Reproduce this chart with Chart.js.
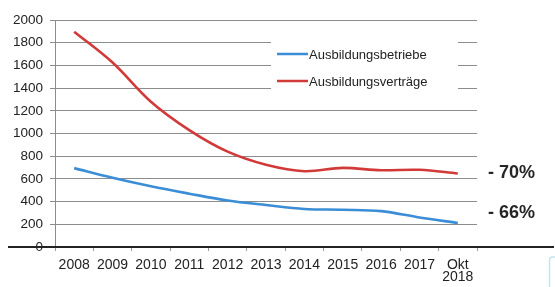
<!DOCTYPE html>
<html>
<head>
<meta charset="utf-8">
<script src="https://cdn.jsdelivr.net/npm/chart.js@4"></script>
<style>
html,body{margin:0;padding:0;background:#fff;}
#wrap{position:relative;width:555px;height:287px;}
</style>
</head>
<body>
<div id="wrap"><canvas id="c" width="555" height="287"></canvas></div>
<script>
const categories = ['2008','2009','2010','2011','2012','2013','2014','2015','2016','2017',['Okt','2018']];
const betriebe = [695, 610, 535, 470, 410, 370, 335, 328, 316, 260, 212];
const vertraege = [1897, 1625, 1280, 1030, 840, 725, 668, 697, 676, 680, 648];
const seriesNames = ['Ausbildungsbetriebe', 'Ausbildungsverträge'];
const seriesColors = ['#3b8ed6', '#d23a3a'];
const yTicks = [0,200,400,600,800,1000,1200,1400,1600,1800,2000];
const annotations = [{text:'- 70%', series:1}, {text:'- 66%', series:0}];

const FONT = 'Arial, "Liberation Sans", sans-serif';

const customPlugin = {
  id: 'custom',
  beforeDatasetsDraw(chart) {
    const ctx = chart.ctx;
    ctx.save();
    ctx.fillStyle = '#fff';
    ctx.fillRect(271, 33, 187, 58);
    const items = [{y:54}, {y:81}];
    ctx.font = '13px ' + FONT;
    ctx.textBaseline = 'middle';
    ctx.fillStyle = '#222';
    items.forEach((it, i) => {
      ctx.strokeStyle = seriesColors[i];
      ctx.lineWidth = 2.5;
      ctx.beginPath();
      ctx.moveTo(277, it.y);
      ctx.lineTo(308, it.y);
      ctx.stroke();
      ctx.fillText(seriesNames[i], 309, it.y + 1);
    });
    ctx.restore();
  },
  afterDraw(chart) {
    const ctx = chart.ctx;
    const y0 = chart.scales.y.getPixelForValue(0);
    ctx.save();
    ctx.strokeStyle = '#222';
    ctx.lineWidth = 2;
    ctx.beginPath();
    ctx.moveTo(8, y0);
    ctx.lineTo(554, y0);
    ctx.stroke();
    ctx.font = 'bold 18px ' + FONT;
    ctx.fillStyle = '#262626';
    ctx.textBaseline = 'middle';
    ctx.fillText(annotations[0].text, 488, 173);
    ctx.fillText(annotations[1].text, 488, 213);
    ctx.strokeStyle = '#bfe6ee';
    ctx.lineWidth = 1.5;
    ctx.beginPath();
    ctx.moveTo(549.5, 287);
    ctx.lineTo(549.5, 260);
    ctx.quadraticCurveTo(549.5, 257, 553, 257);
    ctx.lineTo(555, 257);
    ctx.stroke();
    ctx.restore();
  }
};

new Chart(document.getElementById('c'), {
  type: 'line',
  data: {
    labels: categories,
    datasets: [
      {label: seriesNames[0], data: betriebe, borderColor: seriesColors[0], borderWidth: 2.6, pointRadius: 0, tension: 0.35, fill: false},
      {label: seriesNames[1], data: vertraege, borderColor: seriesColors[1], borderWidth: 2.6, pointRadius: 0, tension: 0.35, fill: false}
    ]
  },
  options: {
    responsive: false,
    animation: false,
    events: [],
    layout: {padding: {top: 20, right: 78, left: 0, bottom: 0}},
    plugins: {legend: {display: false}, tooltip: {enabled: false}, title: {display: false}},
    scales: {
      x: {
        offset: true,
        grid: {display: true, drawOnChartArea: false, drawTicks: true, tickLength: 4, offset: true, color: '#999'},
        border: {display: false},
        ticks: {color: '#222', font: {size: 14, family: FONT, lineHeight: 0.85}, padding: 8, maxRotation: 0, autoSkip: false},
        afterFit(s) { s.height = 287 - 247; }
      },
      y: {
        min: 0, max: 2000,
        afterBuildTicks(s) { s.ticks = yTicks.map(v => ({value: v})); },
        grid: {color: '#8c8c8c', lineWidth: 1, drawTicks: true, tickLength: 5},
        border: {display: true, color: '#8c8c8c', width: 1},
        ticks: {color: '#222', font: {size: 13.5, family: FONT}, padding: 7, callback: v => String(v)},
        afterFit(s) { s.width = 55; }
      }
    }
  },
  plugins: [customPlugin]
});
</script>
</body>
</html>
